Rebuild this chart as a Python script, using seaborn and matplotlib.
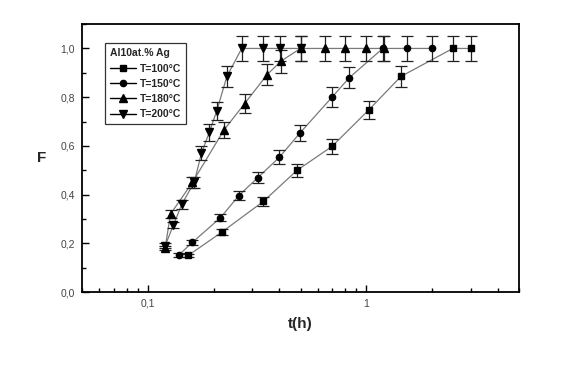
import numpy as np
import pandas as pd
import seaborn as sns
import matplotlib.pyplot as plt
from matplotlib.lines import Line2D
from matplotlib.ticker import FuncFormatter, MultipleLocator, LogLocator

#########################
###Data###
#########################
t_100 = [0.153, 0.219, 0.338, 0.481, 0.697, 1.03, 1.44, 2.49, 3.0]
f_100 = [0.150, 0.247, 0.372, 0.499, 0.598, 0.749, 0.885, 1.0, 1.0]
e_100 = [0.008, 0.012, 0.019, 0.025, 0.030, 0.037, 0.044, 0.05, 0.05]

t_150 = [0.139, 0.160, 0.215, 0.261, 0.319, 0.400, 0.498, 0.697, 0.836, 1.19, 1.53, 2.0]
f_150 = [0.153, 0.204, 0.305, 0.396, 0.470, 0.553, 0.654, 0.800, 0.880, 1.0, 1.0, 1.0]
e_150 = [0.008, 0.010, 0.015, 0.020, 0.024, 0.028, 0.033, 0.040, 0.044, 0.05, 0.05, 0.05]

t_180 = [0.120, 0.127, 0.160, 0.223, 0.277, 0.352, 0.407, 0.50, 0.649, 0.801, 0.997, 1.20]
f_180 = [0.180, 0.320, 0.450, 0.665, 0.773, 0.893, 0.948, 1.0, 1.0, 1.0, 1.0, 1.0]
e_180 = [0.009, 0.016, 0.023, 0.033, 0.039, 0.045, 0.047, 0.05, 0.05, 0.05, 0.05, 0.05]

t_200 = [0.120, 0.131, 0.143, 0.163, 0.176, 0.191, 0.207, 0.230, 0.269, 0.338, 0.403, 0.50]
f_200 = [0.190, 0.275, 0.360, 0.450, 0.570, 0.655, 0.745, 0.885, 1.0, 1.0, 1.0, 1.0]
e_200 = [0.010, 0.014, 0.018, 0.023, 0.029, 0.033, 0.037, 0.044, 0.05, 0.05, 0.05, 0.05]

labels = ["T=100°C", "T=150°C", "T=180°C", "T=200°C"]
markers = ["s", "o", "^", "v"]
msizes = [4.5, 4.5, 5.5, 5.5]

series = [(t_100, f_100, e_100), (t_150, f_150, e_150),
          (t_180, f_180, e_180), (t_200, f_200, e_200)]

##############
###Plotting###
##############
sns.set_style("white")
plt.rcParams['font.family'] = ['Liberation Sans', 'DejaVu Sans']

fig = plt.figure(figsize=(5.66, 3.65), dpi=100)
ax = fig.add_axes([0.145, 0.2, 0.772, 0.734])

for (t, f, e), lab, m, ms in zip(series, labels, markers, msizes):
    df = pd.DataFrame({"t": t, "F": f})
    sns.lineplot(data=df, x="t", y="F", ax=ax, color="#7a7a7a", lw=0.9,
                 sort=True, legend=False, zorder=2)
    ax.errorbar(t, f, yerr=e, fmt="none", ecolor="#222222", elinewidth=0.9,
                capsize=4.5, capthick=0.9, zorder=3)
    ax.plot(t, f, ls="none", marker=m, ms=ms, color="black", zorder=4)

ax.set_xscale("log")
ax.set_xlim(0.05, 5)
ax.set_ylim(0, 1.1)

ax.yaxis.set_major_locator(MultipleLocator(0.2))
ax.yaxis.set_minor_locator(MultipleLocator(0.1))
ax.xaxis.set_major_locator(LogLocator(base=10, numticks=10))
ax.xaxis.set_minor_locator(LogLocator(base=10, subs=np.arange(2, 10), numticks=10))
ax.yaxis.set_major_formatter(FuncFormatter(lambda v, p: "{:.1f}".format(v).replace(".", ",")))
ax.xaxis.set_major_formatter(FuncFormatter(lambda v, p: "{:g}".format(v).replace(".", ",")))

ax.tick_params(which="both", direction="in", top=False, right=False,
               bottom=True, left=True, colors="black", labelcolor="#444444",
               labelsize=7.5, width=1)
ax.tick_params(which="major", length=5, pad=5)
ax.tick_params(which="minor", length=3)

for s in ax.spines.values():
    s.set_color("black")
    s.set_linewidth(1.3)

ax.set_xlabel("t(h)", fontsize=11, fontweight="bold", labelpad=6)
ax.set_ylabel("F", fontsize=11, fontweight="bold", rotation=0, labelpad=14, va="center")

handles = [Line2D([], [], color="black", lw=1, marker=m, ms=ms) for m, ms in zip(markers, msizes)]
leg = ax.legend(handles, labels, title="Al10at.% Ag", loc="upper left",
                bbox_to_anchor=(0.053, 0.929), borderaxespad=0, frameon=True,
                fancybox=False, edgecolor="black", handlelength=2.5,
                handletextpad=0.3, borderpad=0.5, labelspacing=0.5,
                prop={"weight": "bold", "size": 7.5},
                title_fontproperties={"weight": "bold", "size": 7.5})
leg._legend_box.align = "left"
leg.get_frame().set_linewidth(0.9)

plt.savefig("out.png", dpi=100)
